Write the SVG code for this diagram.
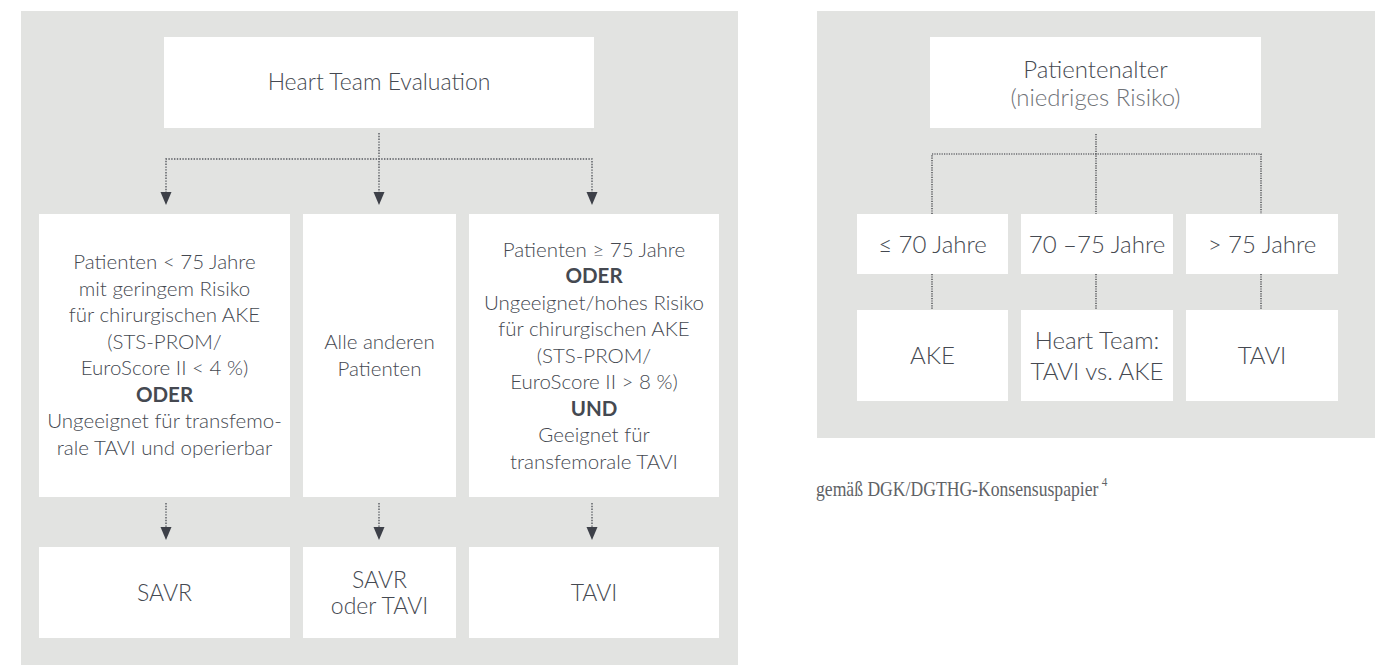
<svg xmlns="http://www.w3.org/2000/svg" width="1388" height="665" viewBox="0 0 1388 665">
<style>
.panel{fill:#e2e3e1}
.box{fill:#ffffff}
.t{font-family:Lato,"Liberation Sans",sans-serif;fill:#454951;text-anchor:middle;font-weight:300}
.m{font-size:20.5px}
.h{font-size:23px}
.r{font-size:24px}
.b{font-weight:700}
.lt{fill:#6f7277}
.dot{fill:none;stroke:#55585e;stroke-width:1.4;stroke-dasharray:1.4 1.4}
.dot2{fill:none;stroke:#2f3136;stroke-width:1.2;stroke-dasharray:1.2 1.2}
.arr{fill:#3d4048}
.cap{font-family:"Liberation Serif",serif;font-size:20.5px;fill:#606266}
</style>
<rect class="panel" x="21" y="11" width="717" height="654"/>
<rect class="panel" x="817" y="11" width="558" height="427"/>

<g id="connectors">
<path class="dot" d="M379 133V193"/>
<path class="dot" d="M166 193V159H592V193"/>
<polygon class="arr" points="160.5,192 171.5,192 166,205"/>
<polygon class="arr" points="373.5,192 384.5,192 379,205"/>
<polygon class="arr" points="586.5,192 597.5,192 592,205"/>
<path class="dot" d="M166 503V528M379 503V528M592 503V528"/>
<polygon class="arr" points="160.5,527 171.5,527 166,540"/>
<polygon class="arr" points="373.5,527 384.5,527 379,540"/>
<polygon class="arr" points="586.5,527 597.5,527 592,540"/>
<path class="dot2" d="M1096 134V214"/>
<path class="dot2" d="M932 214V154H1261V214"/>
<path class="dot2" d="M932 274V310M1096 274V310M1261 274V310"/>
</g>

<g id="heart-team">
<rect class="box" x="164" y="37" width="430" height="91"/>
<text class="t h" x="379" y="90">Heart Team Evaluation</text>
</g>

<g id="crit-left">
<rect class="box" x="39" y="214" width="251" height="283"/>
<text class="t m" x="164.5" y="269">Patienten &lt; 75 Jahre</text>
<text class="t m" x="164.5" y="295.5">mit geringem Risiko</text>
<text class="t m" x="164.5" y="322">für chirurgischen AKE</text>
<text class="t m" x="164.5" y="348.5">(STS-PROM/</text>
<text class="t m" x="164.5" y="375">EuroScore II &lt; 4 %)</text>
<text class="t m b" x="164.5" y="401.5">ODER</text>
<text class="t m" x="164.5" y="428">Ungeeignet für transfemo-</text>
<text class="t m" x="164.5" y="454.5">rale TAVI und operierbar</text>
</g>

<g id="crit-mid">
<rect class="box" x="303" y="214" width="153" height="283"/>
<text class="t m" x="379.5" y="349">Alle anderen</text>
<text class="t m" x="379.5" y="375.5">Patienten</text>
</g>

<g id="crit-right">
<rect class="box" x="469" y="214" width="250" height="283"/>
<text class="t m" x="594" y="256.5">Patienten ≥ 75 Jahre</text>
<text class="t m b" x="594" y="283">ODER</text>
<text class="t m" x="594" y="309.5">Ungeeignet/hohes Risiko</text>
<text class="t m" x="594" y="336">für chirurgischen AKE</text>
<text class="t m" x="594" y="362.5">(STS-PROM/</text>
<text class="t m" x="594" y="389">EuroScore II &gt; 8 %)</text>
<text class="t m b" x="594" y="415.5">UND</text>
<text class="t m" x="594" y="442">Geeignet für</text>
<text class="t m" x="594" y="468.5">transfemorale TAVI</text>
</g>

<g id="res-savr">
<rect class="box" x="39" y="547" width="251" height="91"/>
<text class="t h" x="164.5" y="601">SAVR</text>
</g>
<g id="res-either">
<rect class="box" x="303" y="547" width="153" height="91"/>
<text class="t h" x="379.5" y="588">SAVR</text>
<text class="t h" x="379.5" y="614">oder TAVI</text>
</g>
<g id="res-tavi">
<rect class="box" x="469" y="547" width="250" height="91"/>
<text class="t h" x="594" y="601">TAVI</text>
</g>

<g id="age-root">
<rect class="box" x="930" y="37" width="331" height="91"/>
<text class="t r" x="1095.5" y="78">Patientenalter</text>
<text class="t r lt" x="1095.5" y="106">(niedriges Risiko)</text>
</g>
<g id="age-1">
<rect class="box" x="857" y="214" width="151" height="60"/>
<text class="t r" x="932.5" y="252.5">≤ 70 Jahre</text>
</g>
<g id="age-2">
<rect class="box" x="1021" y="214" width="152" height="60"/>
<text class="t r" x="1097" y="252.5">70 –75 Jahre</text>
</g>
<g id="age-3">
<rect class="box" x="1186" y="214" width="152" height="60"/>
<text class="t r" x="1262" y="252.5">&gt; 75 Jahre</text>
</g>
<g id="out-1">
<rect class="box" x="857" y="310" width="151" height="91"/>
<text class="t r" x="932.5" y="364">AKE</text>
</g>
<g id="out-2">
<rect class="box" x="1021" y="310" width="152" height="91"/>
<text class="t r" x="1097" y="349">Heart Team:</text>
<text class="t r" x="1097" y="380">TAVI vs. AKE</text>
</g>
<g id="out-3">
<rect class="box" x="1186" y="310" width="152" height="91"/>
<text class="t r" x="1262" y="364">TAVI</text>
</g>

<g id="caption">
<text class="cap" transform="translate(816 496) scale(0.86 1)" x="0" y="0">gemäß DGK/DGTHG-Konsensuspapier<tspan font-size="13" dx="4" dy="-10">4</tspan></text>
</g>
</svg>
